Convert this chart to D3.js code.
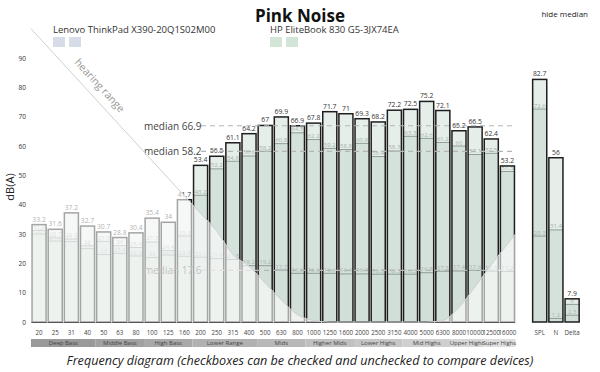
<!DOCTYPE html>
<html>
<head>
<meta charset="utf-8">
<script src="https://cdn.jsdelivr.net/npm/d3@7"></script>
<style>
body { margin: 0; background: #fff; }
svg { display: block; font-family: "Open Sans", sans-serif; }
</style>
</head>
<body>
<script>
var freqs = ["20","25","31","40","50","63","80","100","125","160","200","250","315","400","500","630","800","1000","1250","1600","2000","2500","3150","4000","5000","6300","8000","10000","12500","16000"];
var hpPink = [33.2,31.6,37.2,32.7,30.7,28.8,30.4,35.4,34,41.7,53.4,56.5,61.1,64.2,67,69.9,66.9,67.8,71.7,71,69.3,68.2,72.2,72.5,75.2,72.1,65.2,66.5,62.4,53.2];
var lenovoPink = [31.2,28.7,28.3,26,27.5,26,25.4,27.3,24.4,29.3,43.2,52.2,54.8,56.6,58.2,60.8,64.5,62.2,59.2,58.8,60.9,56.4,58.3,63.3,62.6,61.2,60,57.1,57.5,51.3];
var background = [30,27.6,27.4,25,23,23.4,22.5,22,22.8,22.4,22.1,21.6,21.3,19.2,19.2,17.7,16.6,16.6,16.6,16.4,16.4,16.3,16.3,16.3,16.8,17.3,17.4,17.6,17.3,17.2];
var hearing = [97,91,85,79,73,67,61,55,49,43,37,31,23,19,13.3,7.5,2.5,0.5,0,0,0,0,0,0,0,0.5,5,12,19.5,26.5];
var hearingEdge = [100, 30];

var summaryCats = ["SPL","N","Delta"];
var hpSummary = [82.7,56,7.9];
var lenovoSummary = [72.6,31.4,6];
var bgSummary = [29.3,1.2,2.3];

var medians = [66.9,58.2,17.6];
var rangeNames = ["Deep Bass","Middle Bass","High Bass","Lower Range","Mids","Higher Mids","Lower Highs","Mid Highs","Upper Highs","Super Highs"];
var rangeSizes = [4,3,3,4,3,3,3,3,2,2];
var yTicks = [0,10,20,30,40,50,60,70,80,90];

var w = 600, h = 372;
var svg = d3.select("body").append("svg").attr("width", w).attr("height", h);

var x = d3.scaleBand().domain(freqs).range([31, 515.5]).paddingInner(0.13).paddingOuter(0.065);
var xs = d3.scaleBand().domain(summaryCats).range([531.6, 580.2]).paddingInner(0.13).paddingOuter(0.065);
var y = d3.scaleLinear().domain([0, 90]).range([322, 58]);

var hpFill = "#e5eee8", lenFill = "#d5e2dc", bgFill = "#d1dfd8";
var innerLine = "#8e9d97", innerText = "#a7b2ad";

// title, legend
svg.append("text").attr("x", 300).attr("y", 22).attr("text-anchor", "middle")
    .attr("font-size", "17px").attr("font-weight", "bold").attr("fill", "#111").text("Pink Noise");
svg.append("text").attr("x", 588).attr("y", 17).attr("text-anchor", "end")
    .attr("font-size", "8px").attr("fill", "#222").text("hide median");

var legend = [
    {name: "Lenovo ThinkPad X390-20Q1S02M00", x: 53, color: "#d6dce8"},
    {name: "HP EliteBook 830 G5-3JX74EA", x: 270, color: "#d3e5d7"}
];
legend.forEach(function(d) {
    svg.append("text").attr("x", d.x).attr("y", 33).attr("font-size", "9.5px").attr("fill", "#333").text(d.name);
    [0, 1].forEach(function(k) {
        svg.append("rect").attr("x", d.x + k * 16).attr("y", 37).attr("width", 12).attr("height", 10).attr("fill", d.color);
    });
});

// y axis labels
svg.selectAll(".ytick").data(yTicks).enter().append("text")
    .attr("x", 26).attr("y", function(d) { return y(d) + 2.5; })
    .attr("text-anchor", "end").attr("font-size", "6.5px").attr("fill", "#333")
    .text(function(d) { return d; });
svg.append("text").attr("transform", "translate(14,187) rotate(-90)").attr("text-anchor", "middle")
    .attr("font-size", "11px").attr("fill", "#222").text("dB(A)");

function drawBars(g, scale, cats, top, mid, low) {
    var bw = scale.bandwidth();
    g.selectAll(".top").data(cats).enter().append("rect")
        .attr("x", function(d) { return scale(d); }).attr("width", bw)
        .attr("y", function(d, i) { return y(top[i]); })
        .attr("height", function(d, i) { return y(0) - y(top[i]); })
        .attr("fill", hpFill);
    g.selectAll(".mid").data(cats).enter().append("rect")
        .attr("x", function(d) { return scale(d); }).attr("width", bw)
        .attr("y", function(d, i) { return y(mid[i]); })
        .attr("height", function(d, i) { return y(0) - y(mid[i]); })
        .attr("fill", lenFill);
    g.selectAll(".low").data(cats).enter().append("rect")
        .attr("x", function(d) { return scale(d); }).attr("width", bw)
        .attr("y", function(d, i) { return y(low[i]); })
        .attr("height", function(d, i) { return y(0) - y(low[i]); })
        .attr("fill", bgFill);
    [mid, low].forEach(function(vals) {
        g.selectAll(null).data(cats).enter().append("line")
            .attr("x1", function(d) { return scale(d); })
            .attr("x2", function(d) { return scale(d) + bw; })
            .attr("y1", function(d, i) { return y(vals[i]); })
            .attr("y2", function(d, i) { return y(vals[i]); })
            .attr("stroke", innerLine).attr("stroke-width", 1);
        g.selectAll(null).data(cats).enter().append("text")
            .attr("x", function(d) { return scale(d) + bw / 2; })
            .attr("y", function(d, i) { return y(vals[i]) - 1.5; })
            .attr("text-anchor", "middle").attr("font-size", "6px").attr("fill", innerText)
            .text(function(d, i) { return vals[i]; });
    });
    g.selectAll(".outline").data(cats).enter().append("rect")
        .attr("x", function(d) { return scale(d); }).attr("width", bw)
        .attr("y", function(d, i) { return y(top[i]); })
        .attr("height", function(d, i) { return y(0) - y(top[i]); })
        .attr("fill", "none").attr("stroke", "#1e1e1e").attr("stroke-width", 1.5);
    g.selectAll(".toplabel").data(cats).enter().append("text")
        .attr("x", function(d) { return scale(d) + bw / 2; })
        .attr("y", function(d, i) { return y(top[i]) - 3; })
        .attr("text-anchor", "middle").attr("font-size", "6.8px").attr("fill", "#333")
        .text(function(d, i) { return top[i]; });
}

var main = svg.append("g");
drawBars(main, x, freqs, hpPink, lenovoPink, background);
var summary = svg.append("g");
drawBars(summary, xs, summaryCats, hpSummary, lenovoSummary, bgSummary);

// median lines
var medianText = ["#444", "#444", "#666"];
medians.forEach(function(m, i) {
    main.append("line").attr("x1", 201).attr("x2", 515).attr("y1", y(m)).attr("y2", y(m))
        .attr("stroke", "#b5b5b5").attr("stroke-width", 1.2).attr("stroke-dasharray", "5,4");
    main.append("text").attr("x", 144).attr("y", y(m) + 4).attr("font-size", "10px")
        .attr("fill", medianText[i]).text("median " + m);
});

// hearing range overlay
var hx = [x.range()[0]].concat(freqs.map(function(f) { return x(f) + x.bandwidth() / 2; })).concat([x.range()[1]]);
var hv = [hearingEdge[0]].concat(hearing).concat([hearingEdge[1]]);
var pts = hx.map(function(v, i) { return [v, y(hv[i])]; });
var area = d3.area().x(function(d) { return d[0]; }).y0(y(0)).y1(function(d) { return d[1]; }).curve(d3.curveMonotoneX);
svg.append("path").datum(pts).attr("d", area).attr("fill", "#fff").attr("fill-opacity", 0.6);
svg.append("path").datum(pts).attr("d", d3.line().curve(d3.curveMonotoneX))
    .attr("fill", "none").attr("stroke", "#d0d0d0").attr("stroke-width", 1);
svg.append("text").attr("transform", "translate(97,88) rotate(47.5)").attr("text-anchor", "middle")
    .attr("font-size", "10.5px").attr("fill", "#999").text("hearing range");

// x labels
svg.selectAll(".xl").data(freqs).enter().append("text")
    .attr("x", function(d) { return x(d) + x.bandwidth() / 2; }).attr("y", 335)
    .attr("text-anchor", "middle").attr("font-size", "6.2px").attr("fill", "#444")
    .text(function(d) { return d; });
svg.selectAll(".xs").data(summaryCats).enter().append("text")
    .attr("x", function(d) { return xs(d) + xs.bandwidth() / 2; }).attr("y", 335)
    .attr("text-anchor", "middle").attr("font-size", "6.2px").attr("fill", "#444")
    .text(function(d) { return d; });

// frequency range strip
var shade = d3.scaleLinear().domain([0, rangeNames.length - 1]).range(["#9a9a9a", "#dedede"]);
var start = 0;
rangeNames.forEach(function(name, i) {
    var a = freqs[start], b = freqs[start + rangeSizes[i] - 1];
    var x0 = i === 0 ? x.range()[0] : x(a) - x.step() * x.paddingInner() / 2;
    var x1 = i === rangeNames.length - 1 ? x.range()[1] : x(b) + x.bandwidth() + x.step() * x.paddingInner() / 2;
    svg.append("rect").attr("x", x0).attr("y", 339).attr("width", x1 - x0).attr("height", 8).attr("fill", shade(i));
    svg.append("text").attr("x", (x0 + x1) / 2).attr("y", 345.3).attr("text-anchor", "middle")
        .attr("font-size", "6px").attr("fill", "#444").text(name);
    start += rangeSizes[i];
});

svg.append("text").attr("x", 300).attr("y", 365).attr("text-anchor", "middle")
    .attr("font-size", "12.6px").attr("font-style", "italic").attr("fill", "#222")
    .text("Frequency diagram (checkboxes can be checked and unchecked to compare devices)");
</script>
</body>
</html>
